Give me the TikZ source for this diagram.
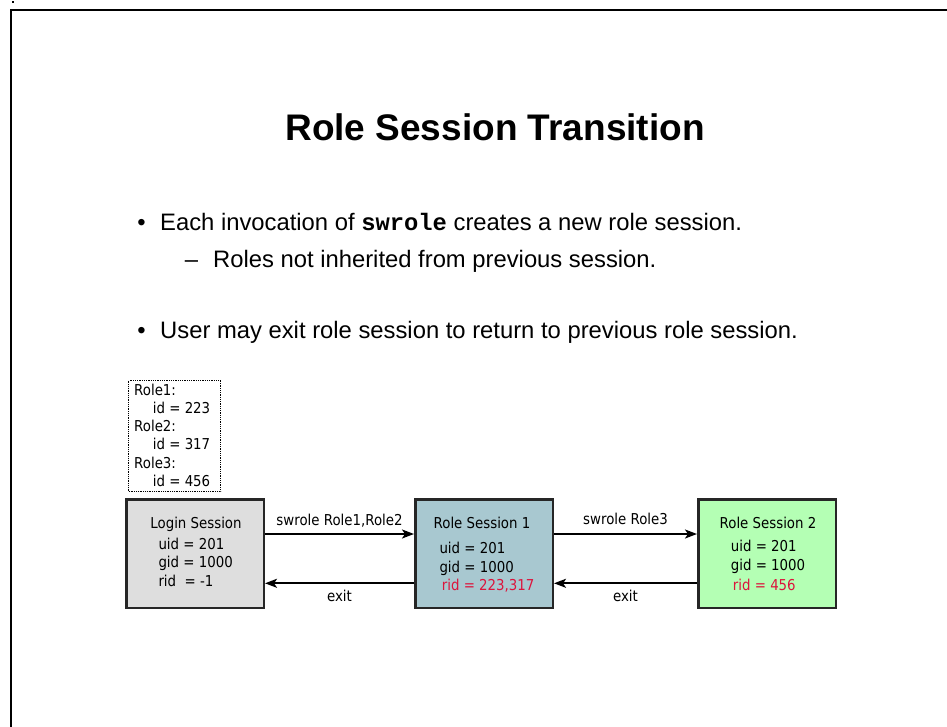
\documentclass[tikz,border=0pt]{standalone}
\usepackage{fontspec}
\usetikzlibrary{arrows.meta}
\setmainfont{Liberation Sans}
\newfontfamily\diagfont[FakeStretch=0.89]{DejaVu Sans}
\newfontfamily\codefont{Liberation Mono}
\definecolor{logingray}{RGB}{222,222,222}
\definecolor{sessblue}{RGB}{168,200,208}
\definecolor{sessgreen}{RGB}{180,255,180}
\definecolor{ridred}{RGB}{220,20,60}
\begin{document}
\begin{tikzpicture}[x=1pt,y=-1pt]

	\tikzstyle{session}=[draw=black!85,line width=2.5pt,
		minimum width=137.5pt,minimum height=108.5pt,inner sep=0pt]
	\tikzstyle{entry}=[font=\diagfont\fontsize{15}{18}\selectfont,
		anchor=base west,inner sep=0pt]
	\tikzstyle{heading}=[font=\diagfont\fontsize{15}{18}\selectfont,
		anchor=base,inner sep=0pt]
	\tikzstyle{slidetext}=[font=\fontsize{23.8}{28}\selectfont,
		anchor=base west,inner sep=0pt]
	\tikzstyle{flow}=[line width=2pt,-{Stealth[length=12pt,width=9pt,inset=3pt]}]

	\useasboundingbox (0,0) rectangle (947,727);
	\draw[line width=1.5pt] (11,727) -- (11,10) -- (947,10);
	\fill (12,1) rectangle (14,3);

	% slide text
	\node[font=\bfseries\fontsize{37}{42}\selectfont,anchor=base,inner sep=0pt]
		(title) at (495,141) {Role Session Transition};
	\node[slidetext,anchor=base] (dot1) at (141.5,231) {\textbullet};
	\node[slidetext] (item1) at (160,231)
		{Each invocation of {\codefont\bfseries swrole} creates a new role session.};
	\node[slidetext,anchor=base] (dash1) at (191.5,268) {--};
	\node[slidetext] (item2) at (213,268) {Roles not inherited from previous session.};
	\node[slidetext,anchor=base] (dot2) at (141.5,338) {\textbullet};
	\node[slidetext] (item3) at (160,338)
		{User may exit role session to return to previous role session.};

	% role ids
	\node[draw,densely dotted,line width=0.8pt,
		minimum width=92pt,minimum height=111pt,inner sep=0pt]
		(roles) at (174.7,435.8) {};
	\foreach \txt/\dx [count=\i] in {Role1:/0,id = 223/18.7,Role2:/0,
		id = 317/18.7,Role3:/0,id = 456/18.7}
		\node[entry] (role\i) at ({134+\dx},{395+18.33*(\i-1)}) {\txt};

	% sessions
	\node[session,fill=logingray]	(login)	at (195,553.5)	{};
	\node[session,fill=sessblue]	(rs1)	at (484,553.5)	{};
	\node[session,fill=sessgreen]	(rs2)	at (767,553.5)	{};

	\node[heading]	(loginname)	at (196,528.3)	{Login Session};
	\node[entry]	(loginuid)	at (158.3,549)	{uid = 201};
	\node[entry]	(logingid)	at (158.3,567.7)	{gid = 1000};
	\node[entry]	(loginrid)	at (158.3,586)	{rid~ = -1};

	\node[heading]	(rsonename)	at (482,528.3)	{Role Session 1};
	\node[entry]	(rsoneuid)	at (439.3,553)	{uid = 201};
	\node[entry]	(rsonegid)	at (439.3,572)	{gid = 1000};
	\node[entry,text=ridred]	(rsonerid)	at (441.7,590)	{rid = 223,317};

	\node[heading]	(rstwoname)	at (768,528.3)	{Role Session 2};
	\node[entry]	(rstwouid)	at (730.7,551.7)	{uid = 201};
	\node[entry]	(rstwogid)	at (730.7,570)	{gid = 1000};
	\node[entry,text=ridred]	(rstworid)	at (732.7,590)	{rid = 456};

	% transitions
	\draw[flow] ([yshift=19.5pt]login.east) -- ([yshift=19.5pt]rs1.west)
		node[heading,midway,yshift=8.3pt] {swrole Role1,Role2};
	\draw[flow] ([yshift=-29.8pt]rs1.west) -- ([yshift=-29.8pt]login.east)
		node[heading,midway,yshift=-17.7pt] {exit};
	\draw[flow] ([yshift=19.5pt]rs1.east) -- ([yshift=19.5pt]rs2.west)
		node[heading,midway,yshift=9.2pt] {swrole Role3};
	\draw[flow] ([yshift=-29.8pt]rs2.west) -- ([yshift=-29.8pt]rs1.east)
		node[heading,midway,yshift=-18.3pt] {exit};

\end{tikzpicture}
\end{document}
